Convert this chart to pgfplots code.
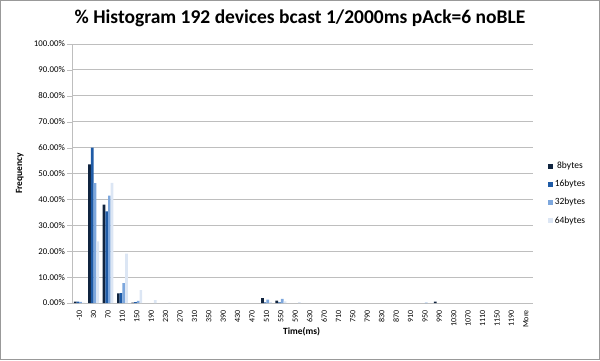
\documentclass[border=0pt]{standalone}
\usepackage{pgfplots}
\pgfplotsset{compat=1.18}
\usepackage{fontspec}
\setmainfont{Carlito}
\definecolor{cA}{HTML}{10243F}
\definecolor{cB}{HTML}{1F5BA6}
\definecolor{cC}{HTML}{7DA7DD}
\definecolor{cD}{HTML}{DCE6F4}
\definecolor{gridc}{HTML}{BEBEBE}
\begin{document}
\begin{tikzpicture}[x=1bp,y=1bp]
\path[use as bounding box] (0,0) rectangle (600,360);
\draw[color=gray!80, line width=1bp] (0.5,0.5) rectangle (599.5,359.5);
\node[font=\bfseries\fontsize{19.5bp}{22bp}\selectfont] at (300,342) {\% Histogram 192 devices bcast 1/2000ms pAck=6 noBLE};
\begin{axis}[
  at={(72bp,57bp)}, anchor=south west,
  scale only axis, width=461bp, height=259bp,
  ybar=0pt, bar width=2.7bp,
  xmin=-0.5, xmax=31.5, ymin=0, ymax=100,
  axis x line*=bottom, axis y line*=left,
  axis line style={gridc},
  xtick={0,...,31},
  xticklabels={-10,30,70,110,150,190,230,270,310,350,390,430,470,510,550,590,630,670,710,750,790,830,870,910,950,990,1030,1070,1110,1150,1190,More},
  x tick label style={rotate=90, anchor=east, font=\fontsize{8bp}{9bp}\selectfont, inner sep=2bp},
  major x tick style={draw=none},
  extra x ticks={-0.5,0.5,...,31.5},
  extra x tick labels={},
  extra x tick style={tick style={gridc}, major tick length=4bp, xtick align=outside, grid=none},
  ytick={0,10,...,100},
  yticklabel={\pgfmathprintnumber[fixed,fixed zerofill,precision=2]{\tick}\%},
  y tick label style={font=\fontsize{8.8bp}{10bp}\selectfont, inner sep=2bp},
  /pgf/number format/assume math mode=true,
  ytick align=outside, major tick length=5bp,
  ytick style={gridc},
  ymajorgrids, grid style={gridc, line width=0.8bp},
  xlabel={\bfseries Time(ms)},
  xlabel style={at={(axis description cs:0.498,0)}, anchor=center, yshift=-29bp, font=\fontsize{9.5bp}{10bp}\selectfont},
  ylabel={\bfseries Frequency},
  ylabel style={at={(axis description cs:-0.113,0.5)}, anchor=center, font=\fontsize{9.5bp}{10bp}\selectfont},
  legend style={at={(axis description cs:1.032,0.552)}, anchor=north west, draw=none, fill=none, font=\fontsize{9.5bp}{10bp}\selectfont, row sep=6bp, inner sep=0pt, /tikz/every even column/.append style={column sep=1bp}},
  legend image code/.code={\fill[#1] (0bp,-2.4bp) rectangle (4.8bp,2.4bp);},
  clip=false,
]
\addplot[fill=cA, draw=none] coordinates {(0,0.5) (1,53.5) (2,38.0) (3,3.7) (4,0.1) (13,1.9) (14,0.9) (25,0.5)};
\addplot[fill=cB, draw=none] coordinates {(0,0.5) (1,60.0) (2,35.4) (3,3.8) (4,0.3) (13,0.2) (14,0.2)};
\addplot[fill=cC, draw=none] coordinates {(0,0.4) (1,46.3) (2,41.5) (3,7.7) (4,0.8) (13,1.3) (14,1.6) (24,0.1)};
\addplot[fill=cD, draw=none] coordinates {(0,0.1) (1,23.8) (2,46.4) (3,19.1) (4,5.0) (5,1.1) (6,0.1) (13,0.3) (14,0.6) (15,0.3)};
\legend{8bytes,16bytes,32bytes,64bytes}
\end{axis}
\end{tikzpicture}
\end{document}
